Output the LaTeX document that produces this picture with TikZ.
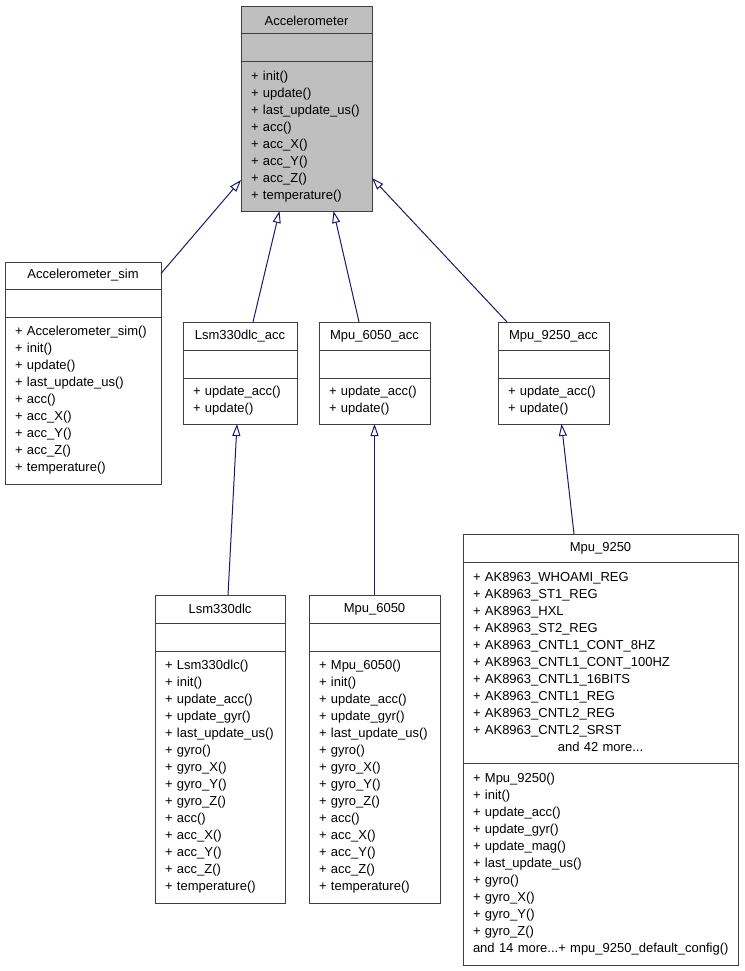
\documentclass[tikz,border=0pt]{standalone}
\usepackage{fontspec}
\setmainfont{Liberation Sans}
\usetikzlibrary{arrows.meta}
\definecolor{edgeblue}{HTML}{191970}
\definecolor{boxgray}{HTML}{BFBFBF}
\definecolor{boxline}{HTML}{404040}

\begin{document}
\begin{tikzpicture}[x=1pt, y=-1pt,
    font=\fontsize{13}{17}\selectfont,
    umlbox/.style={draw=boxline, line width=1pt, anchor=north west, inner sep=0pt, outer sep=0pt},
    umlmembers/.style={umlbox, align=left, inner xsep=10pt},
    inherit/.style={draw=edgeblue, line width=1pt, -{Triangle[open, length=12pt, width=8pt]}}]
    \useasboundingbox (0,0) rectangle (744,971);

    % Base class
    \node[umlbox, fill=boxgray, minimum width=131pt, minimum height=27pt] (acc) at (241,7) {Accelerometer};
    \node[umlbox, fill=boxgray, minimum width=131pt, minimum height=28pt] (acc-e) at (acc.south west) {};
    \node[umlmembers, fill=boxgray, text width=111pt, minimum height=149pt] (acc-m) at (acc-e.south west)
        {+ init()\\+ update()\\+ last\_update\_us()\\+ acc()\\+ acc\_X()\\+ acc\_Y()\\+ acc\_Z()\\+ temperature()};

    % Simulated accelerometer
    \node[umlbox, minimum width=156pt, minimum height=27pt] (sim) at (5,262) {Accelerometer\_sim};
    \node[umlbox, minimum width=156pt, minimum height=28pt] (sim-e) at (sim.south west) {};
    \node[umlmembers, text width=136pt, minimum height=167pt] (sim-m) at (sim-e.south west)
        {+ Accelerometer\_sim()\\+ init()\\+ update()\\+ last\_update\_us()\\+ acc()\\+ acc\_X()\\+ acc\_Y()\\+ acc\_Z()\\+ temperature()};

    % Sensor specific accelerometers
    \node[umlbox, minimum width=114pt, minimum height=28pt] (lsmacc) at (183,322) {Lsm330dlc\_acc};
    \node[umlbox, minimum width=114pt, minimum height=28pt] (lsmacc-e) at (lsmacc.south west) {};
    \node[umlmembers, text width=94pt, minimum height=46pt] (lsmacc-m) at (lsmacc-e.south west)
        {+ update\_acc()\\+ update()};

    \node[umlbox, minimum width=111pt, minimum height=28pt] (mpuacc) at (319,322) {Mpu\_6050\_acc};
    \node[umlbox, minimum width=111pt, minimum height=28pt] (mpuacc-e) at (mpuacc.south west) {};
    \node[umlmembers, text width=91pt, minimum height=46pt] (mpuacc-m) at (mpuacc-e.south west)
        {+ update\_acc()\\+ update()};

    \node[umlbox, minimum width=111pt, minimum height=28pt] (mpu9acc) at (498,322) {Mpu\_9250\_acc};
    \node[umlbox, minimum width=111pt, minimum height=28pt] (mpu9acc-e) at (mpu9acc.south west) {};
    \node[umlmembers, text width=91pt, minimum height=46pt] (mpu9acc-m) at (mpu9acc-e.south west)
        {+ update\_acc()\\+ update()};

    % Full sensors
    \node[umlbox, minimum width=130pt, minimum height=28pt] (lsm) at (155,595) {Lsm330dlc};
    \node[umlbox, minimum width=130pt, minimum height=28pt] (lsm-e) at (lsm.south west) {};
    \node[umlmembers, text width=110pt, minimum height=252pt] (lsm-m) at (lsm-e.south west)
        {+ Lsm330dlc()\\+ init()\\+ update\_acc()\\+ update\_gyr()\\+ last\_update\_us()\\+ gyro()\\+ gyro\_X()\\+ gyro\_Y()\\+ gyro\_Z()\\+ acc()\\+ acc\_X()\\+ acc\_Y()\\+ acc\_Z()\\+ temperature()};

    \node[umlbox, minimum width=131pt, minimum height=28pt] (mpu) at (309,595) {Mpu\_6050};
    \node[umlbox, minimum width=131pt, minimum height=28pt] (mpu-e) at (mpu.south west) {};
    \node[umlmembers, text width=111pt, minimum height=252pt] (mpu-m) at (mpu-e.south west)
        {+ Mpu\_6050()\\+ init()\\+ update\_acc()\\+ update\_gyr()\\+ last\_update\_us()\\+ gyro()\\+ gyro\_X()\\+ gyro\_Y()\\+ gyro\_Z()\\+ acc()\\+ acc\_X()\\+ acc\_Y()\\+ acc\_Z()\\+ temperature()};

    \node[umlbox, minimum width=275pt, minimum height=28pt] (mpu9) at (463,534) {Mpu\_9250};
    \node[umlmembers, text width=255pt, minimum height=201pt] (mpu9-a) at (mpu9.south west)
        {+ AK8963\_WHOAMI\_REG\\+ AK8963\_ST1\_REG\\+ AK8963\_HXL\\+ AK8963\_ST2\_REG\\+ AK8963\_CNTL1\_CONT\_8HZ\\+ AK8963\_CNTL1\_CONT\_100HZ\\+ AK8963\_CNTL1\_16BITS\\+ AK8963\_CNTL1\_REG\\+ AK8963\_CNTL2\_REG\\+ AK8963\_CNTL2\_SRST\\\makebox[255pt][c]{and 42 more...}};
    \node[umlmembers, text width=255pt, minimum height=202pt] (mpu9-m) at (mpu9-a.south west)
        {+ Mpu\_9250()\\+ init()\\+ update\_acc()\\+ update\_gyr()\\+ update\_mag()\\+ last\_update\_us()\\+ gyro()\\+ gyro\_X()\\+ gyro\_Y()\\+ gyro\_Z()\\\mbox{and 14 more...+ mpu\_9250\_default\_config()}};

    % Inheritance arrows
    \draw[inherit] ([yshift=2pt]sim.east) -- ([yshift=31pt]acc-m.south west);
    \draw[inherit] ([xshift=13pt]lsmacc.north) -- ([xshift=-27pt]acc-m.south);
    \draw[inherit] ([xshift=-15.5pt]mpuacc.north) -- ([xshift=27pt]acc-m.south);
    \draw[inherit] ([xshift=9pt]mpu9acc.north west) -- ([yshift=33pt]acc-m.south east);
    \draw[inherit] ([xshift=8pt]lsm.north) -- ([xshift=-3pt]lsmacc-m.south);
    \draw[inherit] (mpu.north) -- (mpuacc-m.south);
    \draw[inherit] ([xshift=-26.5pt]mpu9.north) -- ([xshift=8pt]mpu9acc-m.south);
\end{tikzpicture}
\end{document}
